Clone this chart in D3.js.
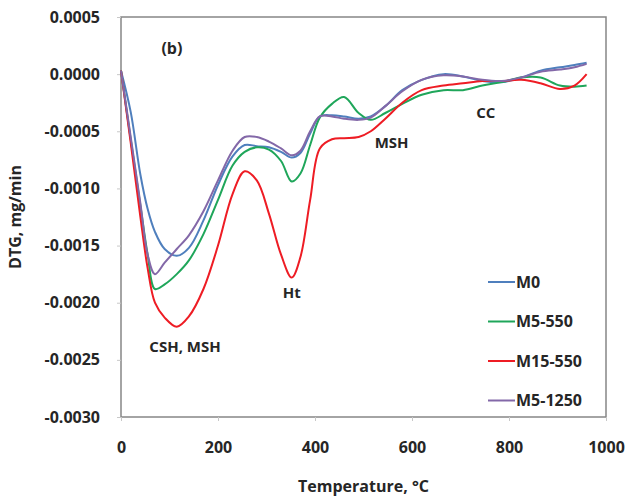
<!DOCTYPE html>
<html>
<head>
	<meta charset="utf-8">
	<script src="https://cdn.jsdelivr.net/npm/d3@7/dist/d3.min.js"></script>
	<style>
		body { margin: 0; background: #fff; }
		text { font-family: "Open Sans", sans-serif; font-weight: bold; fill: #262626; }
	</style>
</head>
<body>
	<div id="chart"></div>

	<script>
		// temperatures (°C) shared by all four series
		var temps = [0, 20, 40, 55, 70, 90, 115, 140, 170, 200, 230, 255, 280, 305, 330, 352, 370, 390, 410,
			435, 460, 490, 515, 545, 580, 620, 665, 705, 745, 785, 825, 865, 905, 935, 960];

		var m0 = [0.00003, -0.00033, -0.00088, -0.00118, -0.00138, -0.00153, -0.00159, -0.00152, -0.00128, -0.00097,
			-0.00072, -0.00062, -0.00063, -0.00064, -0.00068, -0.00073, -0.00069, -0.00052, -0.00037,
			-0.00036, -0.00037, -0.00039, -0.00037, -0.00028, -0.00014, -0.00005, 0.0, -0.00002, -0.00006,
			-0.00007, -0.00003, 0.00003, 0.00006, 0.00008, 0.0001];

		var m5_550 = [0.00003, -0.00057, -0.00115, -0.00158, -0.00188, -0.00184, -0.00175, -0.00163, -0.0014, -0.0011,
			-0.0008, -0.00068, -0.00064, -0.00066, -0.00076, -0.00094, -0.00087, -0.00062, -0.00038,
			-0.00026, -0.0002, -0.00034, -0.0004, -0.00034, -0.00026, -0.00018, -0.00014, -0.00014, -0.0001,
			-0.00007, -0.00003, -0.00003, -0.0001, -0.00011, -0.0001];

		var m15_550 = [0.00003, -0.0006, -0.00125, -0.0017, -0.002, -0.00213, -0.00221, -0.00212, -0.00188, -0.0015,
			-0.00105, -0.00085, -0.00093, -0.00122, -0.00158, -0.00178, -0.0016, -0.0011, -0.00065,
			-0.00057, -0.00056, -0.00055, -0.0005, -0.00039, -0.00025, -0.00014, -0.0001, -0.00008, -0.00006,
			-0.00006, -0.00005, -0.00008, -0.00013, -0.0001, 0.0];

		var m5_1250 = [0.00003, -0.00055, -0.00113, -0.00158, -0.00175, -0.00165, -0.00153, -0.00141, -0.0012, -0.00093,
			-0.00067, -0.00055, -0.00055, -0.00059, -0.00065, -0.00071, -0.00067, -0.0005, -0.00037,
			-0.00037, -0.00039, -0.0004, -0.00038, -0.00028, -0.00015, -0.00005, -0.00001, -0.00002, -0.00005,
			-0.00006, -0.00003, 0.00002, 0.00004, 0.00006, 0.00009];

		var seriesNames = ["M0", "M5-550", "M15-550", "M5-1250"];
		var seriesValues = [m0, m5_550, m15_550, m5_1250];
		var seriesColors = ["#4f7fbd", "#1fa65a", "#ee1c24", "#8368a8"];

		var xTicks = [0, 200, 400, 600, 800, 1000];
		var yTicks = [0.0005, 0.0, -0.0005, -0.001, -0.0015, -0.002, -0.0025, -0.003];

		// peak labels: text, temperature, value
		var peakLabels = [
			["CSH, MSH", 132, -0.00243],
			["Ht", 352, -0.00196],
			["MSH", 558, -0.00065],
			["CC", 752, -0.00038]
		];

		var width = 630, height = 498;
		var plotLeft = 121, plotRight = 606, plotTop = 17, plotBottom = 417;

		var svg = d3.select("#chart").append("svg")
			.attr("width", width)
			.attr("height", height);

		var x = d3.scaleLinear().domain([0, 1000]).range([plotLeft, plotRight]);
		var y = d3.scaleLinear().domain([-0.003, 0.0005]).range([plotBottom, plotTop]);

		// plot frame
		svg.append("rect")
			.attr("x", plotLeft).attr("y", plotTop)
			.attr("width", plotRight - plotLeft).attr("height", plotBottom - plotTop)
			.attr("fill", "none")
			.attr("stroke", "#868686")
			.attr("stroke-width", 1.5);

		svg.append("g")
			.attr("transform", "translate(" + plotLeft + ",0)")
			.call(d3.axisLeft(y).tickValues(yTicks).tickSize(4).tickPadding(17)
				.tickFormat(function(d) { return d.toFixed(4); }));

		svg.append("g")
			.attr("transform", "translate(0," + plotBottom + ")")
			.call(d3.axisBottom(x).tickValues(xTicks).tickSize(4).tickPadding(21)
				.tickFormat(d3.format("d")));

		svg.selectAll(".domain").remove();
		svg.selectAll(".tick line").attr("stroke", "#c8c8c8");
		svg.selectAll(".tick text")
			.style("font-size", "16px")
			.style("font-family", "'Open Sans', sans-serif")
			.style("font-weight", "bold")
			.attr("fill", "#262626");

		svg.append("text")
			.attr("x", (plotLeft + plotRight) / 2)
			.attr("y", 492)
			.attr("text-anchor", "middle")
			.style("font-size", "16px")
			.text("Temperature, °C");

		svg.append("text")
			.attr("transform", "translate(21," + (plotTop + plotBottom) / 2 + ") rotate(-90)")
			.attr("text-anchor", "middle")
			.style("font-size", "16px")
			.text("DTG, mg/min");

		svg.append("text")
			.attr("x", x(105))
			.attr("y", y(0.00018))
			.attr("text-anchor", "middle")
			.style("font-size", "16px")
			.text("(b)");

		var line = d3.line()
			.x(function(d) { return x(d[0]); })
			.y(function(d) { return y(d[1]); })
			.curve(d3.curveCatmullRom.alpha(0.5));

		seriesValues.forEach(function(vals, i) {
			svg.append("path")
				.datum(temps.map(function(t, j) { return [t, vals[j]]; }))
				.attr("fill", "none")
				.attr("stroke", seriesColors[i])
				.attr("stroke-width", 2)
				.attr("d", line);
		});

		svg.selectAll(".peak")
			.data(peakLabels)
			.enter().append("text")
			.attr("class", "peak")
			.attr("x", function(d) { return x(d[1]); })
			.attr("y", function(d) { return y(d[2]); })
			.attr("text-anchor", "middle")
			.style("font-size", "15px")
			.text(function(d) { return d[0]; });

		// legend
		var legend = svg.selectAll(".legend")
			.data(seriesNames)
			.enter().append("g")
			.attr("class", "legend")
			.attr("transform", function(d, i) { return "translate(488," + (282 + i * 39.5) + ")"; });

		legend.append("line")
			.attr("x1", 0).attr("x2", 27)
			.attr("stroke", function(d, i) { return seriesColors[i]; })
			.attr("stroke-width", 2);

		legend.append("text")
			.attr("x", 28)
			.attr("dy", "0.35em")
			.style("font-size", "16px")
			.text(function(d) { return d; });
	</script>
</body>
</html>
